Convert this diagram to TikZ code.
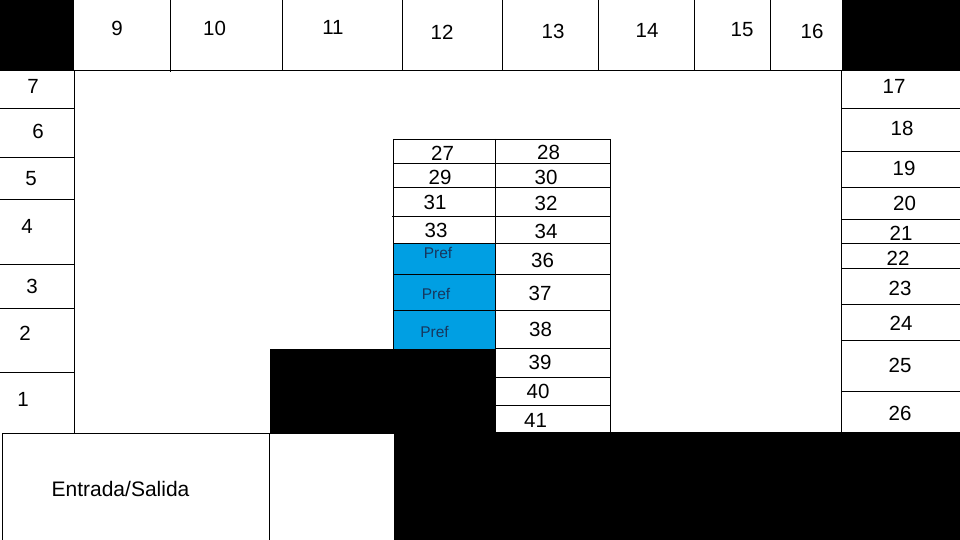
\documentclass[tikz,border=0pt]{standalone}
\usepackage{fontspec}
\setmainfont{Liberation Sans}
\definecolor{prefblue}{HTML}{009FE3}
\definecolor{preftext}{HTML}{17375E}
\tikzset{
  plan/.style={x=1pt,y=-1pt},
  wall/.style={fill=black,draw=none},
  rule/.style={draw=black,line width=1pt},
  pref/.style={fill=prefblue,draw=none},
  num/.style={inner sep=0pt,font=\fontsize{20.5}{20.5}\selectfont,text=black},
  preflabel/.style={inner sep=0pt,font=\fontsize{15.5}{15.5}\selectfont,text=preftext}
}
\begin{document}
\begin{tikzpicture}[plan]
\useasboundingbox (0,0) rectangle (960,540);
\fill[white] (0,0) rectangle (960,540);
% black areas
\fill[wall] (0,0) rectangle (74,71);
\fill[wall] (842,0) rectangle (960,71);
\fill[wall] (393.5,432) rectangle (960,540);
\fill[wall] (270,348.5) rectangle (496,433);
% preferred cells
\fill[pref] (394,243) rectangle (495,349);
% top row
\draw[rule] (74,70.5) -- (842,70.5);
\foreach \x/\a in {170.5/72,282.5/70,402.5/70,502.5/70,598.5/70,694.5/70,770.5/70}
  \draw[rule] (\x,0) -- (\x,\a);
% left column
\draw[rule] (74.5,70) -- (74.5,433);
\foreach \y in {108.5,157.5,199.5,264.5,308.5,372.5}
  \draw[rule] (0,\y) -- (75,\y);
% right column
\draw[rule] (841.5,70) -- (841.5,433);
\foreach \y in {108.5,151.5,187.5,219.5,243.5,268.5,304.5,340.5,391.5}
  \draw[rule] (841,\y) -- (960,\y);
% entrance
\draw[rule] (2,433.5) -- (394,433.5);
\draw[rule] (2.5,433) -- (2.5,540);
\draw[rule] (269.5,433) -- (269.5,540);
% centre block
\draw[rule] (394,139.5) -- (610,139.5);
\foreach \y in {163.5,187.5,243.5,274.5,310.5}
  \draw[rule] (394,\y) -- (610,\y);
\draw[rule] (392,216.5) -- (611,216.5);
\foreach \y in {348.5,377.5,405.5}
  \draw[rule] (495,\y) -- (610,\y);
\draw[rule] (393.5,139) -- (393.5,349);
\draw[rule] (495.5,139) -- (495.5,349);
\draw[rule] (610.5,139) -- (610.5,433);
% labels
\foreach \n/\x/\y in {9/117/28.5,10/214.5/28.5,11/333/27.5,12/442/32.5,13/553/31.5,14/647/30.5,15/742/29.5,16/812/31.5,
  7/33/86.5,6/38/131.5,5/31/178.5,4/27/226.5,3/32/286.5,2/25/333.5,1/23/399.5,
  17/894/86.5,18/902/128.5,19/904/168.5,20/904.5/203.5,21/901/233.5,22/898/258.5,23/900/288.5,24/901/323.5,25/900/365.5,26/900/413.5,
  27/442.5/153,28/548.5/152.5,29/440/177.5,30/546/177.5,31/435/202.5,32/546/203.5,33/436/230.5,34/546/231.5,
  36/542.5/260.5,37/540/293.5,38/540.5/329.5,39/540/362.5,40/538/391.5,41/535.5/420.5}
  \node[num] (n\n) at (\x,\y) {\n};
\node[preflabel] (prefa) at (438,253) {Pref};
\node[preflabel] (prefb) at (436,294) {Pref};
\node[preflabel] (prefc) at (434.5,332) {Pref};
\node[num,font=\fontsize{21}{21}\selectfont] (entrada) at (120.5,489) {Entrada/Salida};
\end{tikzpicture}
\end{document}
